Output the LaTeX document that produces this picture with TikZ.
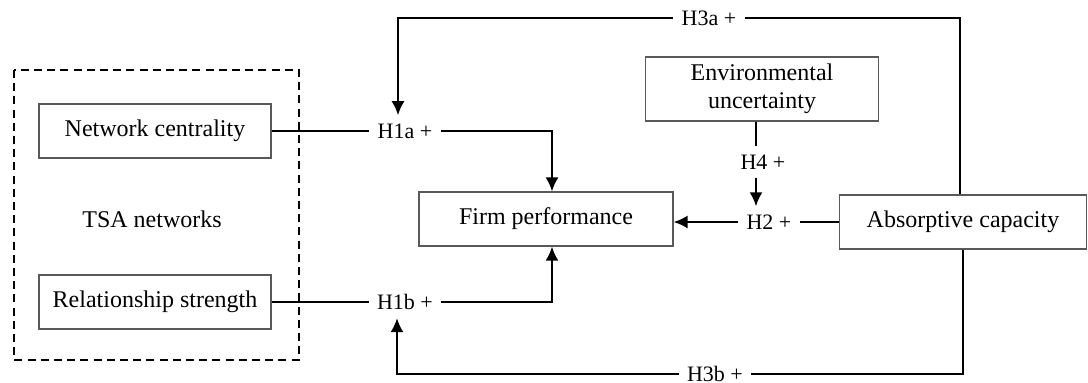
\documentclass[tikz,border=0pt]{standalone}
\usepackage{fontspec}
\setmainfont{Liberation Serif}
\usepackage{tikz}
\usetikzlibrary{arrows.meta}
\tikzset{
  var/.style={draw=black!65, line width=.6pt, align=center, inner sep=0pt,
    font=\fontsize{12}{14}\selectfont},
  hyp/.style={inner sep=4pt, font=\fontsize{11}{13}\selectfont},
  link/.style={line width=1pt},
  arr/.style={line width=1pt, -{Latex[length=7pt,width=6.5pt]}}
}

\begin{document}
\begin{tikzpicture}[x=.5pt,y=-.5pt]
    \useasboundingbox (0,0) rectangle (1088,382);

    % TSA networks
    \draw[line width=1pt, dash pattern=on 4pt off 2.6pt] (14,70) rectangle (299,360);
    \node[var, minimum width=116pt, minimum height=27pt] (nc) at (155,131) {Network centrality};
    \node[var, minimum width=116pt, minimum height=27pt] (rs) at (155,302) {Relationship strength};
    \node[font=\fontsize{12}{14}\selectfont] (tsa) at (152,219) {TSA networks};

    \node[var, minimum width=127pt, minimum height=27pt] (fp) at (546,219) {Firm performance};
    \node[var, minimum width=116.5pt, minimum height=32pt] (eu) at (762,89) {Environmental\\uncertainty};
    \node[var, minimum width=123.5pt, minimum height=27pt] (ac) at (963,222) {Absorptive capacity};

    \node[hyp] (h1a) at (405,131) {H1a +};
    \node[hyp] (h1b) at (405,302) {H1b +};
    \node[hyp] (h3a) at (709,18) {H3a +};
    \node[hyp] (h3b) at (715,374) {H3b +};
    \node[hyp] (h4) at (763,162) {H4 +};
    \node[hyp] (h2) at (769,222) {H2 +};

    \draw[link] (nc.east) -- (h1a.west);
    \draw[arr] (h1a.east) -| ([xshift=3pt]fp.north);
    \draw[link] (rs.east) -- (h1b.west);
    \draw[arr] (h1b.east) -| ([xshift=3pt]fp.south);

    \draw[link] ([xshift=-1.5pt]ac.north) |- (h3a.east);
    \draw[arr] (h3a.west) -| ([xshift=-3.5pt]h1a.north);
    \draw[link] (ac.south) |- (h3b.east);
    \draw[arr] (h3b.west) -| ([xshift=-4pt]h1b.south);

    \draw[link] ([xshift=-3pt]eu.south) -- ([xshift=-3pt]eu.south |- h4.north);
    \draw[arr] ([xshift=-3pt]eu.south |- h4.south) -- ([xshift=-3pt]eu.south |- h2.north);
    \draw[link] (ac.west) -- (h2.east);
    \draw[arr] (h2.west) -- (h2.west -| fp.east);
\end{tikzpicture}
\end{document}
